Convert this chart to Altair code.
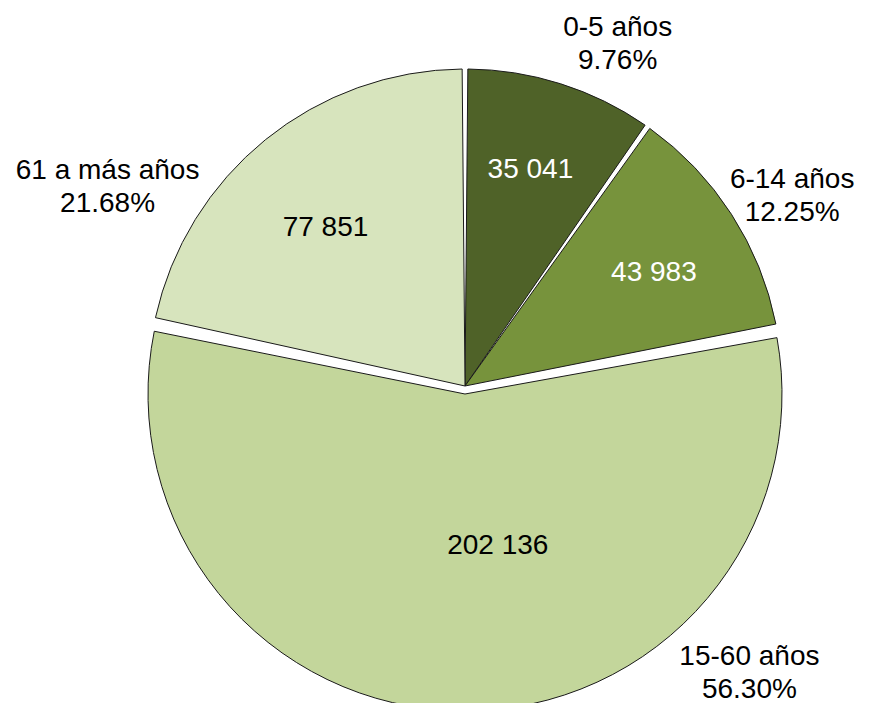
import altair as alt
import pandas as pd

# ---- data ----
categories = ["0-5 años", "6-14 años", "15-60 años", "61 a más años"]
values = [35041, 43983, 202136, 77851]
percents = ["9.76%", "12.25%", "56.30%", "21.68%"]

df = pd.DataFrame({
    "cat": categories,
    "value": values,
    "pct": percents,
    "order": list(range(len(categories))),
})

# ---- styling / layout (kept in code) ----
palette = ["#4F6228", "#77933C", "#C3D69B", "#D7E4BD"]
value_colors = {"0-5 años": "white", "6-14 años": "white",
                "15-60 años": "black", "61 a más años": "black"}
CX, CY, R = 457, 378, 317
FONT = "Liberation Sans"
FS = 28
PAD = 0.018

# outside-label nudges (Excel best-fit placement) relative to polar anchor
out_nudge = {"0-5 años": (47, -24), "6-14 años": (33, -16),
             "15-60 años": (288, -79), "61 a más años": (-137, 57)}
in_nudge = {"0-5 años": (-1, -6), "6-14 años": (4, 6),
            "15-60 años": (35, -60), "61 a más años": (-1, 13)}

base = (
    alt.Chart(df)
    .transform_window(cum="sum(value)", sort=[alt.SortField("order")], frame=[None, 0])
    .transform_joinaggregate(total="sum(value)")
    .transform_calculate(end="2*PI*datum.cum/datum.total")
    .transform_calculate(start="2*PI*(datum.cum-datum.value)/datum.total")
    .transform_calculate(mid="(datum.start+datum.end)/2")
    .transform_calculate(outlbl="datum.cat + '\\n' + datum.pct")
    .transform_calculate(vallbl="replace(format(datum.value, ','), ',', ' ')")
)

arc_enc = dict(
    theta=alt.Theta("start:Q", scale=None),
    theta2="end:Q",
    color=alt.Color("cat:N", scale=alt.Scale(domain=categories, range=palette), legend=None),
    x=alt.value(CX),
    y=alt.value(CY),
)

arcs = base.mark_arc(outerRadius=R, padAngle=PAD, stroke="#1a1a1a", strokeWidth=1).encode(
    **arc_enc).transform_filter("datum.cat != '15-60 años'")
exploded = base.mark_arc(outerRadius=R, padAngle=PAD, stroke="#1a1a1a", strokeWidth=1,
                         yOffset=8).encode(**arc_enc).transform_filter("datum.cat == '15-60 años'")

layers = [exploded, arcs]
for c in categories:
    dx, dy = out_nudge[c]
    layers.append(
        base.mark_text(radius=350, dx=dx, dy=dy, font=FONT, fontSize=FS, lineBreak="\n",
                       lineHeight=33, align="center", baseline="middle", color="black")
        .encode(theta=alt.Theta("mid:Q", scale=None), x=alt.value(CX), y=alt.value(CY),
                text="outlbl:N")
        .transform_filter(alt.datum.cat == c)
    )
    dx, dy = in_nudge[c]
    layers.append(
        base.mark_text(radius=220, dx=dx, dy=dy, font=FONT, fontSize=FS,
                       align="center", baseline="middle", color=value_colors[c])
        .encode(theta=alt.Theta("mid:Q", scale=None), x=alt.value(CX), y=alt.value(CY),
                text="vallbl:N")
        .transform_filter(alt.datum.cat == c)
    )

chart = alt.layer(*layers).properties(
    width=859, height=695, autosize=alt.AutoSizeParams(type="none"), padding=0
).configure_view(strokeWidth=0)

chart.save("out.html", embed_options={"renderer": "svg", "actions": False})
